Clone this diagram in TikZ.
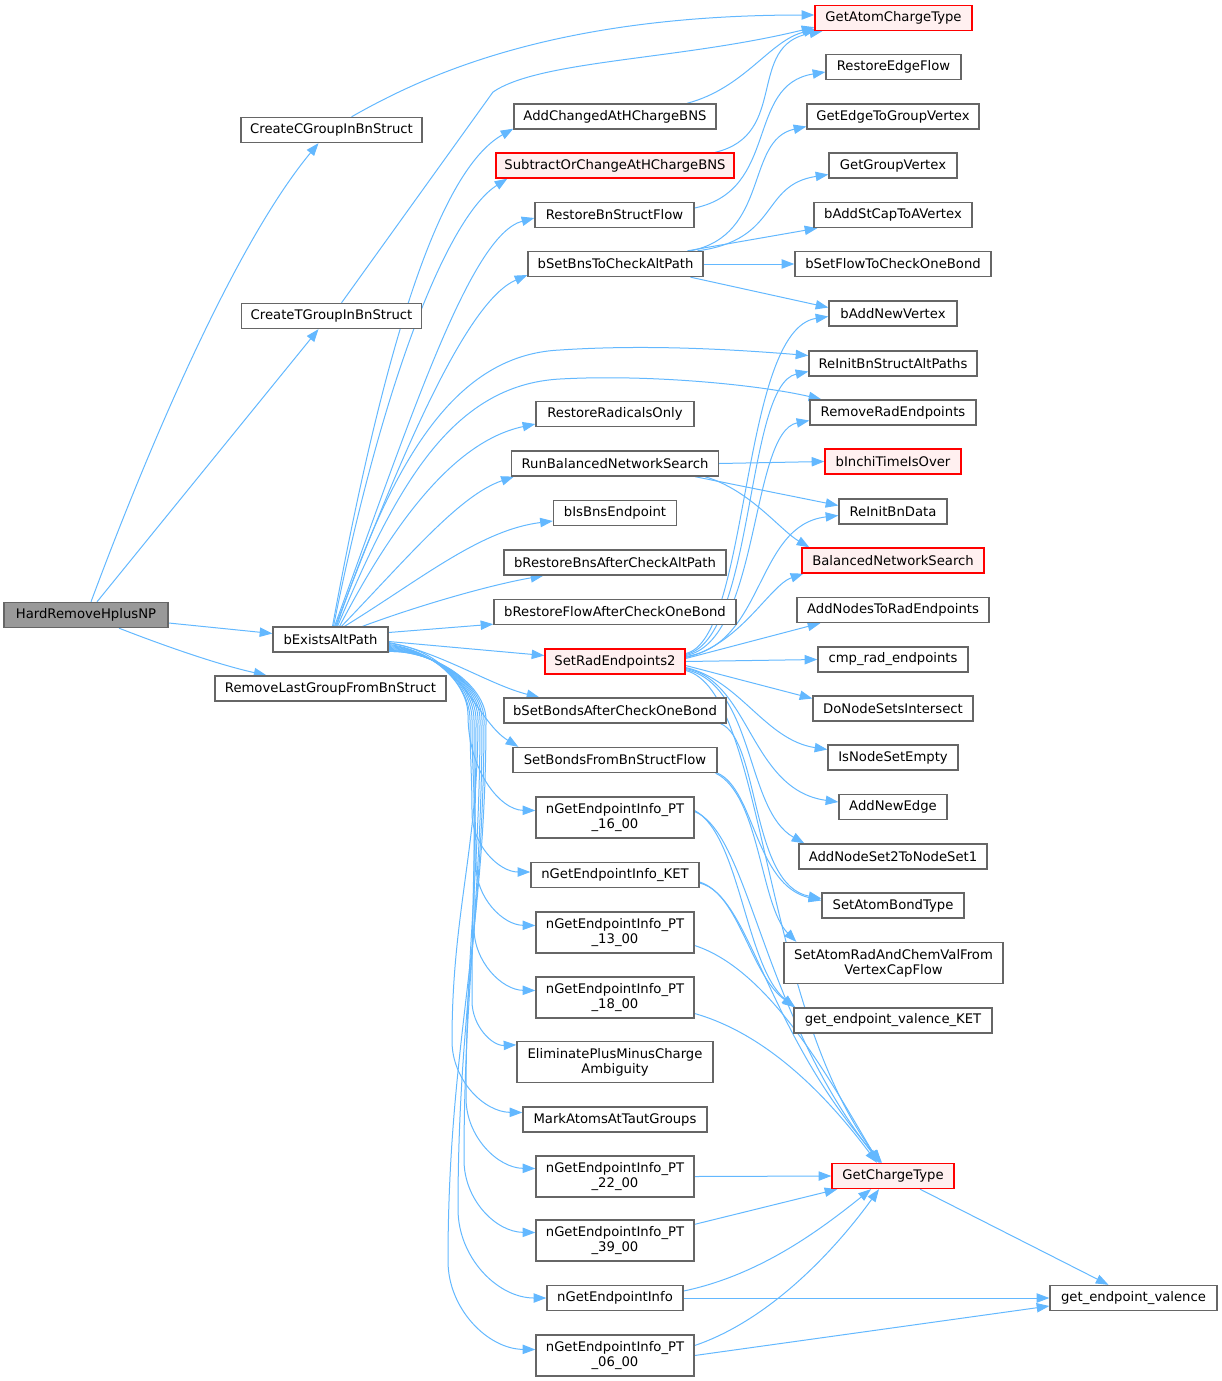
\documentclass[tikz,border=0pt]{standalone}
\usepackage{fontspec}
\setmainfont{DejaVu Sans}
\usetikzlibrary{arrows.meta,calc}
\definecolor{edgec}{HTML}{63B8FF}
\definecolor{boxd}{HTML}{666666}
\definecolor{redfill}{HTML}{FFF0F0}
\definecolor{rootfill}{HTML}{999999}
\pgfdeclarelayer{bg}
\pgfsetlayers{bg,main}
\begin{document}
\begin{tikzpicture}[x=0.75pt,y=-0.75pt,
  box/.style={draw=boxd, line width=1pt, fill=white, minimum height=25*0.75pt, inner sep=0pt, align=center, font=\fontsize{9.9pt}{11.25pt}\selectfont},
  redbox/.style={box, draw=red, fill=redfill},
  rootbox/.style={box, fill=rootfill},
  tall/.style={minimum height=41*0.75pt},
  bw/.style={minimum width=#1*0.75pt},
  edge/.style={draw=edgec, line width=0.75pt, -{Triangle[length=9.5pt,width=7pt]}}]
\useasboundingbox (0,0) rectangle (1221,1381);
% column 1
\node[rootbox,bw=164] (HR) at (86,615) {HardRemoveHplusNP};
% column 2
\node[box,bw=181] (CC) at (331.5,130) {CreateCGroupInBnStruct};
\node[box,bw=180] (CT) at (331.5,316) {CreateTGroupInBnStruct};
\node[box,bw=115] (BE) at (330.5,639.5) {bExistsAltPath};
\node[box,bw=231] (RL) at (330.5,688.5) {RemoveLastGroupFromBnStruct};
% column 3
\node[box,bw=202] (ACB) at (615,116.5) {AddChangedAtHChargeBNS};
\node[redbox,bw=238] (SOC) at (615,165.5) {SubtractOrChangeAtHChargeBNS};
\node[box,bw=159] (RBF) at (614.5,215) {RestoreBnStructFlow};
\node[box,bw=175] (BSB) at (615.5,264) {bSetBnsToCheckAltPath};
\node[box,bw=158] (RRO) at (615,414) {RestoreRadicalsOnly};
\node[box,bw=207] (RBN) at (615,463.5) {RunBalancedNetworkSearch};
\node[box,bw=123] (BIE) at (615,513) {bIsBnsEndpoint};
\node[box,bw=222] (BRB) at (615,562.5) {bRestoreBnsAfterCheckAltPath};
\node[box,bw=242] (BRF) at (615,612) {bRestoreFlowAfterCheckOneBond};
\node[redbox,bw=140] (SRE) at (615,661.5) {SetRadEndpoints2};
\node[box,bw=222] (BSA) at (615,710.5) {bSetBondsAfterCheckOneBond};
\node[box,bw=204] (SBF) at (615,760) {SetBondsFromBnStructFlow};
\node[box,tall,bw=158] (P16) at (615,817.5) {nGetEndpointInfo\_PT\\\_16\_00};
\node[box,bw=168] (KET) at (615,875) {nGetEndpointInfo\_KET};
\node[box,tall,bw=158] (P13) at (615,932.5) {nGetEndpointInfo\_PT\\\_13\_00};
\node[box,tall,bw=158] (P18) at (615,997.5) {nGetEndpointInfo\_PT\\\_18\_00};
\node[box,tall,bw=196] (EPM) at (615,1062) {EliminatePlusMinusCharge\\Ambiguity};
\node[box,bw=184] (MAT) at (615,1119.5) {MarkAtomsAtTautGroups};
\node[box,tall,bw=158] (P22) at (615,1176.5) {nGetEndpointInfo\_PT\\\_22\_00};
\node[box,tall,bw=158] (P39) at (615,1240.5) {nGetEndpointInfo\_PT\\\_39\_00};
\node[box,bw=136] (NGE) at (615,1298) {nGetEndpointInfo};
\node[box,tall,bw=158] (P06) at (615,1355.5) {nGetEndpointInfo\_PT\\\_06\_00};
% column 4
\node[redbox,bw=157] (GAC) at (893.5,18) {GetAtomChargeType};
\node[box,bw=135] (REF) at (893.5,67) {RestoreEdgeFlow};
\node[box,bw=172] (GEG) at (893,116.5) {GetEdgeToGroupVertex};
\node[box,bw=128] (GGV) at (893,165.5) {GetGroupVertex};
\node[box,bw=158] (BAS) at (893,215) {bAddStCapToAVertex};
\node[box,bw=196] (BSF) at (893,264) {bSetFlowToCheckOneBond};
\node[box,bw=128] (BAN) at (893,313.5) {bAddNewVertex};
\node[box,bw=168] (RIA) at (893,363.5) {ReInitBnStructAltPaths};
\node[box,bw=166] (RRE) at (893,412.5) {RemoveRadEndpoints};
\node[redbox,bw=136] (BIT) at (893,461.5) {bInchiTimeIsOver};
\node[box,bw=108] (RID) at (893,511.5) {ReInitBnData};
\node[redbox,bw=182] (BNS) at (893,560.5) {BalancedNetworkSearch};
\node[box,bw=192] (ANR) at (893,610) {AddNodesToRadEndpoints};
\node[box,bw=150] (CRE) at (893,659.5) {cmp\_rad\_endpoints};
\node[box,bw=160] (DNS) at (893,708.5) {DoNodeSetsIntersect};
\node[box,bw=130] (INE) at (893,757.5) {IsNodeSetEmpty};
\node[box,bw=108] (ANE) at (893,807) {AddNewEdge};
\node[box,bw=188] (ANS) at (893,856.5) {AddNodeSet2ToNodeSet1};
\node[box,bw=142] (SAB) at (893,905.5) {SetAtomBondType};
\node[box,tall,bw=219] (SAR) at (893.5,963) {SetAtomRadAndChemValFrom\\VertexCapFlow};
\node[box,bw=198] (GEK) at (893,1020.5) {get\_endpoint\_valence\_KET};
\node[redbox,bw=122] (GCT) at (893,1176) {GetChargeType};
% column 5
\node[box,bw=167] (GEV) at (1133.5,1298) {get\_endpoint\_valence};

\begin{pgfonlayer}{bg}
% root
\draw[edge] ($(HR.north)+(5,0)$) .. controls (140,470) and (230,250) .. ($(CC.south)+(-13,0)$);
\draw[edge] ($(HR.north)+(11,0)$) -- ($(CT.south)+(-13,0)$);
\draw[edge] ($(HR.east)+(0,8)$) -- ($(BE.west)+(0,-6)$);
\draw[edge] ($(HR.south)+(33,0)$) .. controls (170,648) and (220,665) .. ($(RL.north)+(-64,0)$);
% column 2 to GetAtomChargeType
\draw[edge] ($(CC.north)+(20,0)$) .. controls (430,72) and (560,15) .. ($(GAC.west)+(0,-3)$);
\draw[edge] ($(CT.north)+(10,0)$) -- (493,92) .. controls (540,60) and (680,60) .. ($(GAC.south west)+(0,-4)$);
% column 3 top
\draw[edge] ($(ACB.north)+(72,0)$) .. controls (745,88) and (770,40) .. ($(GAC.south west)+(2,-2)$);
\draw[edge] ($(SOC.north)+(100,0)$) .. controls (790,135) and (745,45) .. ($(GAC.south west)+(8,0)$);
\draw[edge] ($(RBF.east)+(0,-7)$) .. controls (780,190) and (745,85) .. ($(REF.west)+(0,5)$);
\draw[edge] ($(BSB.north)+(75,0)$) .. controls (770,235) and (745,140) .. ($(GEG.west)+(0,10)$);
\draw[edge] ($(BSB.north)+(82,0)$) .. controls (780,240) and (760,185) .. ($(GGV.west)+(0,9)$);
\draw[edge] ($(BSB.north)+(72,0)$) -- ($(BAS.south west)+(4,0)$);
\draw[edge] (BSB.east) -- (BSF.west);
\draw[edge] ($(BSB.south)+(75,0)$) -- ($(BAN.west)+(0,-6)$);
% bExistsAltPath upward fan
\draw[edge] ($(BE.north)+(2,0)$) .. controls (385,340) and (440,170) .. ($(ACB.south west)+(0,-1)$);
\draw[edge] ($(BE.north)+(3,0)$) .. controls (385,370) and (450,215) .. ($(SOC.south west)+(12,0)$);
\draw[edge] ($(BE.north)+(4,0)$) .. controls (410,420) and (470,235) .. ($(RBF.west)+(0,3)$);
\draw[edge] ($(BE.north)+(5,0)$) .. controls (410,430) and (470,300) .. ($(BSB.west)+(0,11)$);
\draw[edge] ($(BE.north)+(6,0)$) .. controls (390,470) and (450,355) .. (560,350) .. controls (650,344) and (740,350) .. ($(RIA.west)+(0,-8)$);
\draw[edge] ($(BE.north)+(7,0)$) .. controls (395,490) and (450,385) .. (560,379) .. controls (650,374) and (760,385) .. ($(RRE.north west)+(12,0)$);
\draw[edge] ($(BE.north)+(9,0)$) .. controls (400,510) and (460,440) .. ($(RRO.west)+(0,10)$);
\draw[edge] ($(BE.north)+(11,0)$) .. controls (410,555) and (460,495) .. ($(RBN.south west)+(3,0)$);
\draw[edge] ($(BE.north)+(14,0)$) .. controls (420,580) and (480,530) .. ($(BIE.west)+(0,8)$);
\draw[edge] ($(BE.north)+(32,0)$) .. controls (420,605) and (490,585) .. ($(BRB.south west)+(40,0)$);
\draw[edge] ($(BE.east)+(0,-7)$) -- ($(BRF.south west)+(0,-1)$);
\draw[edge] ($(BE.east)+(0,2)$) -- ($(SRE.west)+(0,-6)$);
% bExistsAltPath downward fan
\draw[edge] ($(BE.east)+(0,3)$) .. controls (440,652) and (490,685) .. ($(BSA.north west)+(36,0)$);
\draw[edge] ($(BE.east)+(0,4)$) .. controls (460,650) and (475,720) .. ($(SBF.north west)+(6,0)$);
\draw[edge] ($(BE.east)+(0,5)$) .. controls (435,650) and (468,685) .. (468,715) .. controls (468,770) and (500,810) .. ($(P16.west)+(0,-7)$);
\draw[edge] ($(BE.east)+(0,6)$) .. controls (435,650) and (470,685) .. (470,720) .. controls (470,757) and (472,776) .. (472,813) .. controls (472,845) and (499,872) .. ($(KET.west)+(0,-3)$);
\draw[edge] ($(BE.east)+(0,7)$) .. controls (435,650) and (472,685) .. (472,720) .. controls (472,778) and (476,807) .. (476,865) .. controls (476,898) and (503,925) .. ($(P13.west)+(0,-7)$);
\draw[edge] ($(BE.east)+(0,8)$) .. controls (435,650) and (474,685) .. (474,720) .. controls (474,803) and (474,845) .. (474,928) .. controls (474,962) and (502,990) .. ($(P18.west)+(0,-7)$);
\draw[edge] ($(BE.east)+(0,9)$) .. controls (435,650) and (476,685) .. (476,720) .. controls (476,832) and (472,889) .. (472,1001) .. controls (472,1026) and (492,1046) .. ($(EPM.north west)+(0,4)$);
\draw[edge] ($(BE.east)+(0,10)$) .. controls (435,650) and (478,685) .. (478,720) .. controls (478,848) and (452,913) .. (452,1041) .. controls (452,1080) and (484,1112) .. ($(MAT.west)+(0,-7)$);
\draw[edge] ($(BE.east)+(0,11)$) .. controls (435,650) and (480,685) .. (480,720) .. controls (480,871) and (466,947) .. (466,1098) .. controls (466,1137) and (498,1168) .. ($(P22.west)+(0,-8)$);
\draw[edge] ($(BE.east)+(0,11)$) .. controls (435,650) and (482,685) .. (482,720) .. controls (482,896) and (464,984) .. (464,1160) .. controls (464,1200) and (496,1232) .. ($(P39.west)+(0,-8)$);
\draw[edge] ($(BE.east)+(0,12)$) .. controls (435,650) and (484,685) .. (484,720) .. controls (484,916) and (458,1013) .. (458,1209) .. controls (458,1258) and (498,1298) .. (NGE.west);
\draw[edge] ($(BE.east)+(0,12)$) .. controls (435,650) and (486,685) .. (486,720) .. controls (486,936) and (448,1045) .. (448,1261) .. controls (448,1309) and (488,1349) .. ($(P06.west)+(0,-6)$);
% RunBalancedNetworkSearch
\draw[edge] (RBN.east) -- (BIT.west);
\draw[edge] ($(RBN.south)+(80,0)$) -- ($(RID.west)+(0,-6)$);
\draw[edge] ($(RBN.south)+(90,0)$) .. controls (750,490) and (780,530) .. ($(BNS.north west)+(8,0)$);
% SetRadEndpoints2
\draw[edge] ($(SRE.east)+(0,-8)$) .. controls (750,640) and (740,330) .. ($(BAN.west)+(0,3)$);
\draw[edge] ($(SRE.east)+(0,-7)$) .. controls (755,640) and (745,385) .. ($(RIA.west)+(0,8)$);
\draw[edge] ($(SRE.east)+(0,-6)$) .. controls (760,642) and (750,432) .. ($(RRE.west)+(0,8)$);
\draw[edge] ($(SRE.east)+(0,-5)$) .. controls (765,645) and (755,525) .. ($(RID.west)+(0,4)$);
\draw[edge] ($(SRE.east)+(0,-4)$) .. controls (740,645) and (770,585) .. ($(BNS.south west)+(2,0)$);
\draw[edge] ($(SRE.east)+(0,-3)$) -- ($(ANR.south west)+(24,0)$);
\draw[edge] (SRE.east) -- (CRE.west);
\draw[edge] ($(SRE.east)+(0,4)$) -- ($(DNS.west)+(0,-10)$);
\draw[edge] ($(SRE.east)+(0,6)$) .. controls (740,680) and (765,740) .. ($(INE.west)+(0,-8)$);
\draw[edge] ($(SRE.east)+(0,7)$) .. controls (750,680) and (750,790) .. ($(ANE.west)+(0,-5)$);
\draw[edge] ($(SRE.east)+(0,8)$) .. controls (755,685) and (745,810) .. ($(ANS.north west)+(6,0)$);
\draw[edge] ($(SRE.east)+(0,9)$) .. controls (765,690) and (760,1000) .. ($(GCT.north)+(-12,0)$);
% bond setting
\draw[edge] ($(BSA.south east)+(-6,0)$) .. controls (760,740) and (750,885) .. ($(SAB.west)+(0,-7)$);
\draw[edge] (SBF.south east) .. controls (755,790) and (755,885) .. ($(SAB.west)+(0,-5)$);
\draw[edge] ($(SBF.south east)+(-2,0)$) .. controls (760,795) and (760,905) .. ($(SAR.north west)+(13,0)$);
% endpoint info
\draw[edge] ($(P16.east)+(0,-7)$) .. controls (740,835) and (745,965) .. ($(GEK.north west)+(1,0)$);
\draw[edge] ($(P16.east)+(0,-6)$) .. controls (750,835) and (760,1010) .. ($(GCT.north)+(-13,0)$);
\draw[edge] ($(KET.east)+(0,7)$) .. controls (740,895) and (750,975) .. ($(GEK.north west)+(2,0)$);
\draw[edge] ($(KET.east)+(0,8)$) .. controls (750,895) and (765,1030) .. ($(GCT.north)+(-11,0)$);
\draw[edge] ($(P13.east)+(0,13)$) .. controls (770,970) and (830,1080) .. ($(GCT.north)+(-14,0)$);
\draw[edge] ($(P18.east)+(0,16)$) .. controls (770,1035) and (830,1100) .. ($(GCT.north)+(-16,0)$);
\draw[edge] (P22.east) -- (GCT.west);
\draw[edge] ($(P39.north east)+(0,5)$) -- ($(GCT.south west)+(6,0)$);
\draw[edge] ($(NGE.east)+(0,-7)$) .. controls (760,1275) and (820,1230) .. ($(GCT.south)+(-22,0)$);
\draw[edge] (NGE.east) -- (GEV.west);
\draw[edge] ($(P06.east)+(0,-10)$) .. controls (770,1320) and (835,1250) .. ($(GCT.south)+(-14,0)$);
\draw[edge] (P06.east) -- ($(GEV.west)+(0,8)$);
\draw[edge] ($(GCT.south)+(27,0)$) -- ($(GEV.north)+(-25,0)$);
\end{pgfonlayer}
\end{tikzpicture}
\end{document}
